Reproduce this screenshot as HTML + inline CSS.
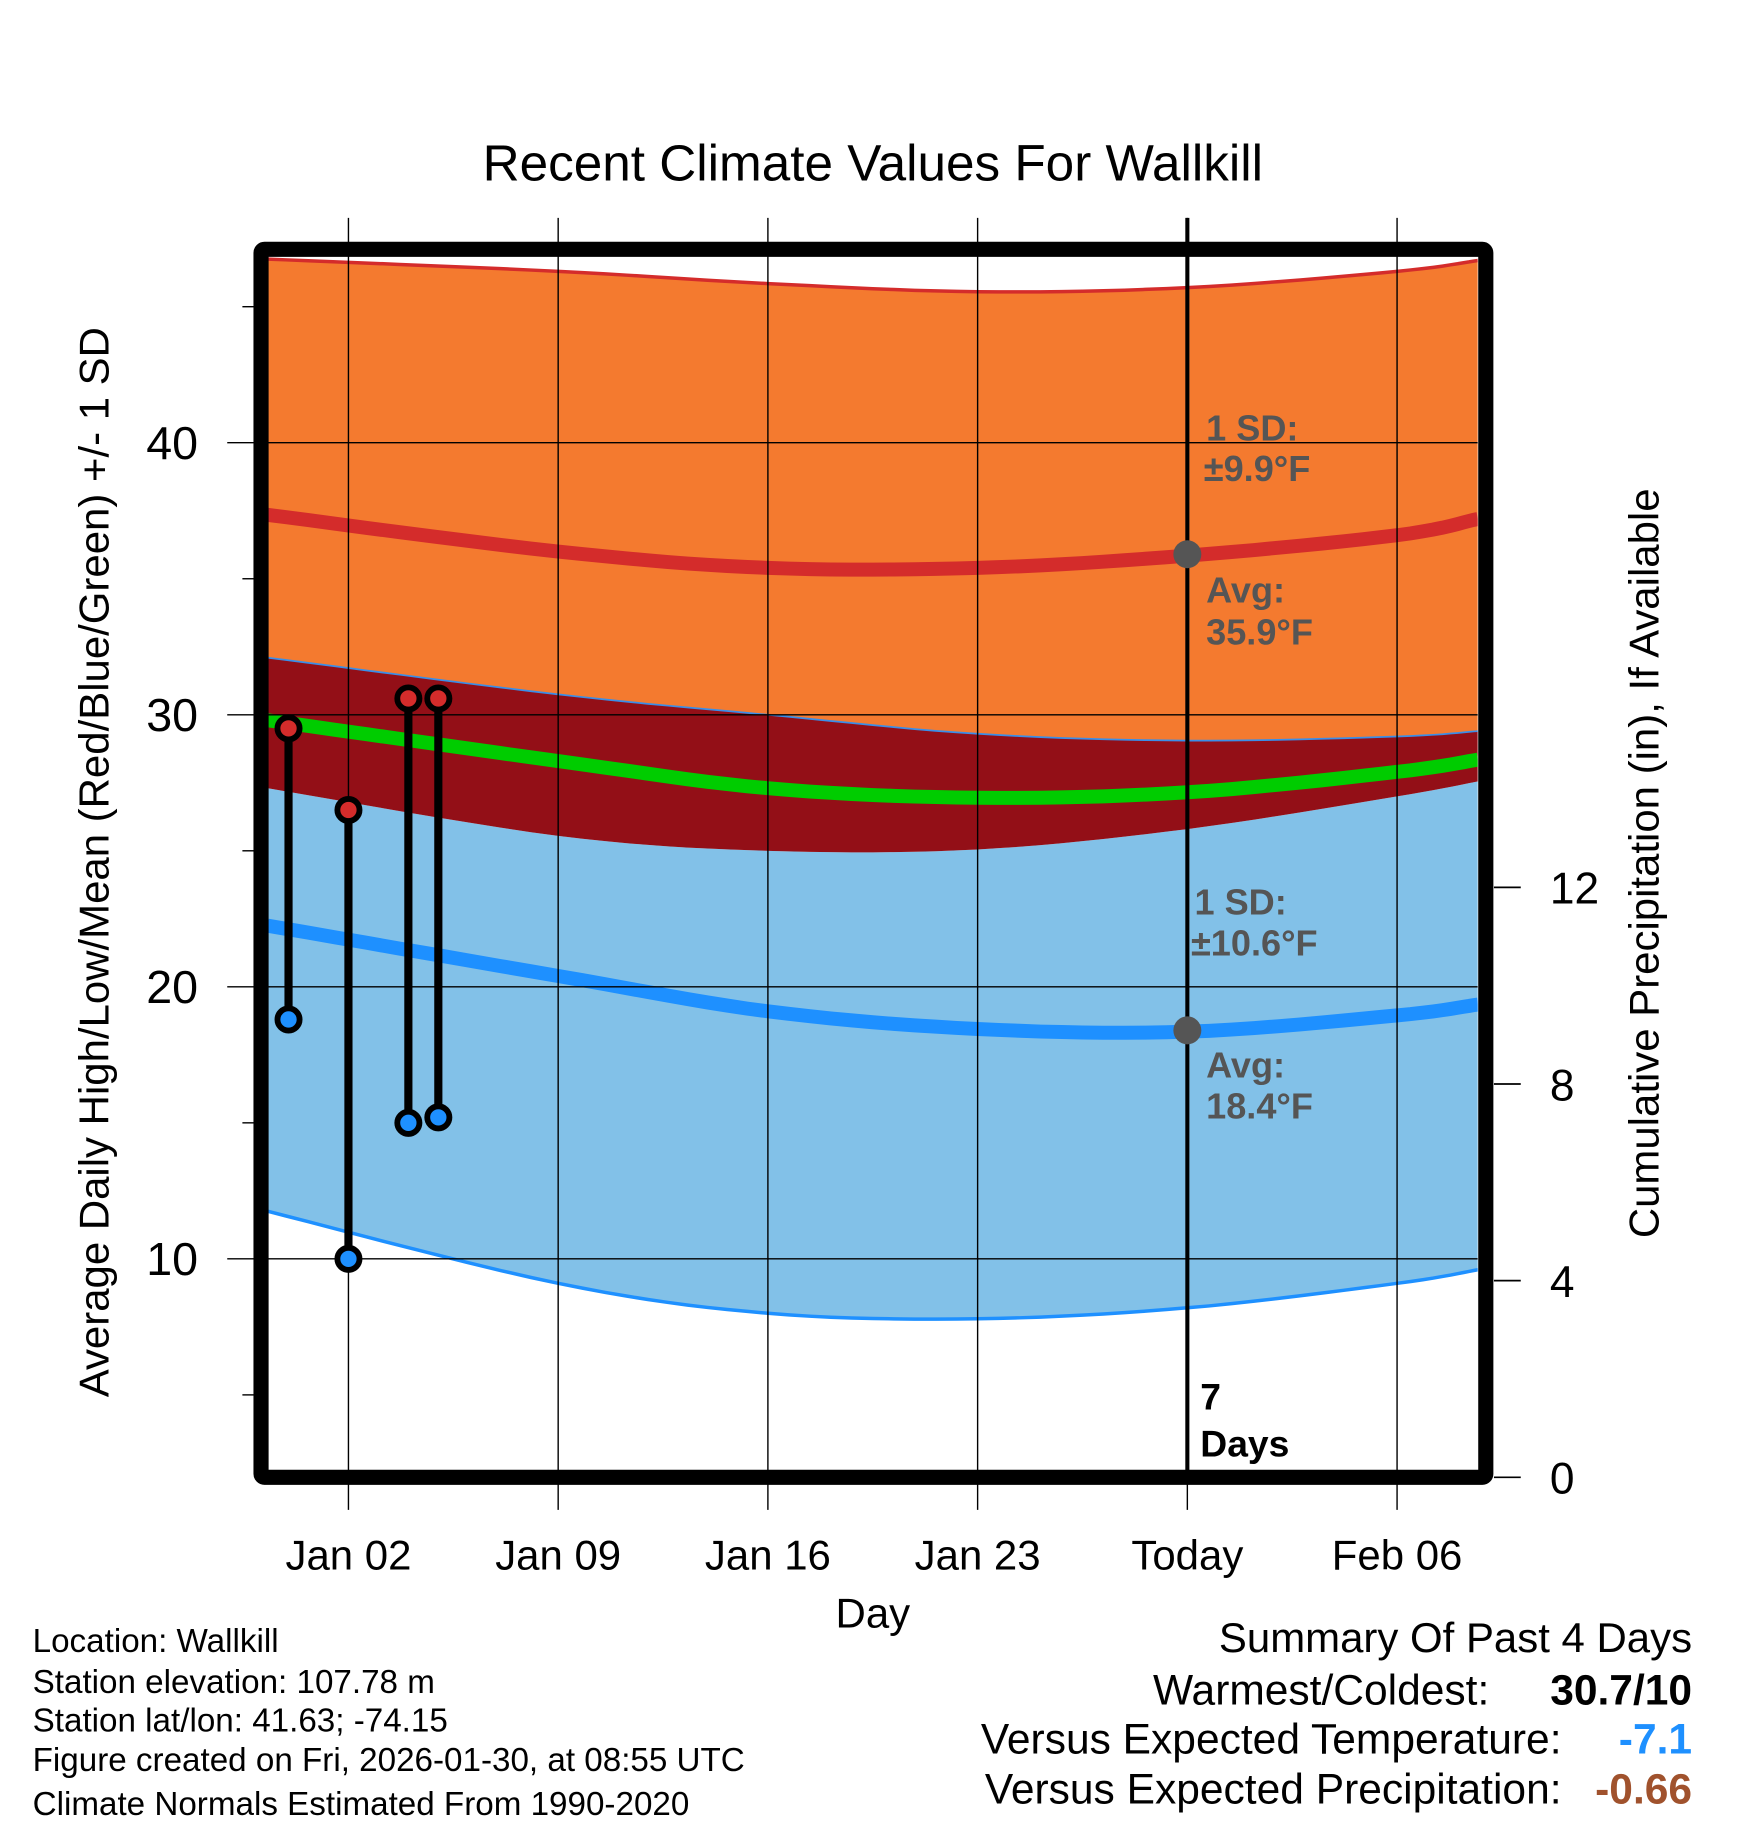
<!DOCTYPE html>
<html><head><meta charset="utf-8"><style>
html,body{margin:0;padding:0;background:#fff;}
svg{display:block;font-family:"Liberation Sans",sans-serif;}
</style></head><body>
<svg id="chart" width="1748" height="1828" viewBox="0 0 1500 1569" preserveAspectRatio="none" xmlns="http://www.w3.org/2000/svg">
<defs><clipPath id="plotclip"><rect x="230" y="220" width="1038" height="1042"/></clipPath></defs>
<rect width="1500" height="1569" fill="#fff"/>
<text x="749" y="155" font-size="44" text-anchor="middle">Recent Climate Values For Wallkill</text>
<g id="fills" clip-path="url(#plotclip)"></g>
<g id="grid"></g>
<g id="marks"></g>
<g id="frame"></g>
<g id="axes"></g>
<text transform="translate(93,740) rotate(-90)" font-size="36" text-anchor="middle">Average Daily High/Low/Mean (Red/Blue/Green) +/- 1 SD</text>
<text transform="translate(1423,741) rotate(-90)" font-size="36" text-anchor="middle">Cumulative Precipitation (in), If Available</text>
<text x="749" y="1397" font-size="36" text-anchor="middle">Day</text>
<g font-size="28.5">
<text x="28" y="1418">Location: Wallkill</text>
<text x="28" y="1453">Station elevation: 107.78 m</text>
<text x="28" y="1486">Station lat/lon: 41.63; -74.15</text>
<text x="28" y="1520">Figure created on Fri, 2026-01-30, at 08:55 UTC</text>
<text x="28" y="1558">Climate Normals Estimated From 1990-2020</text>
</g>
<g font-size="36.5">
<text x="1452" y="1418" text-anchor="end" font-size="36">Summary Of Past 4 Days</text>
<text x="1278" y="1463" text-anchor="end">Warmest/Coldest:</text>
<text x="1452" y="1463" text-anchor="end" font-weight="bold">30.7/10</text>
<text x="1340" y="1505" text-anchor="end">Versus Expected Temperature:</text>
<text x="1452" y="1505" text-anchor="end" font-weight="bold" fill="#1e90ff">-7.1</text>
<text x="1340" y="1548" text-anchor="end">Versus Expected Precipitation:</text>
<text x="1452" y="1548" text-anchor="end" font-weight="bold" fill="#a0522d">-0.66</text>
</g>
</svg>
<script>
const days=[-1.7,8,15,22,29,36,38.7];
const hiSdTop=[46.75,46.3,45.85,45.55,45.7,46.3,46.7];
const hiAvg=[37.35,36.0,35.4,35.4,35.85,36.6,37.2];
const hiSdBot=[32.1,30.75,30.0,29.3,29.05,29.2,29.4];
const meanT=[29.8,28.3,27.3,26.95,27.15,27.9,28.35];
const loSdTop=[27.3,25.55,25.0,25.05,25.8,27.0,27.55];
const loAvg=[22.25,20.4,19.1,18.45,18.35,18.95,19.35];
const loSdBot=[11.75,9.1,8.0,7.8,8.2,9.1,9.6];
const obsDays=[-1,1,3,4];
const obsHigh=[29.5,26.5,30.6,30.6];
const obsLow=[18.8,10,15.0,15.2];
const xTickDays=[1,8,15,22,29,36];
const xTickLabels=["Jan 02","Jan 09","Jan 16","Jan 23","Today","Feb 06"];
const yTicks=[10,20,30,40];
const yMinor=[5,15,25,35,45];
const y2Ticks=[0,4,8,12];
const todayDay=29;
const todayHi=35.9, todayLo=18.4;

const X=d=>273.3+d*25.71;
const Y=v=>1314-v*23.35;
const Y2=p=>1268-p*42.2;
const NS="http://www.w3.org/2000/svg";
let e;
function mk(tag,attrs,parent){const el=document.createElementNS(NS,tag);for(const k in attrs)el.setAttribute(k,attrs[k]);parent.appendChild(el);return el;}
function spline(vals){
  const pts=days.map((d,i)=>[X(d),Y(vals[i])]);const out=[];
  for(let i=0;i<pts.length-1;i++){const p0=pts[Math.max(i-1,0)],p1=pts[i],p2=pts[i+1],p3=pts[Math.min(i+2,pts.length-1)];
    for(let t=0;t<0.999;t+=0.1){const t2=t*t,t3=t2*t;
      const f=(a,b,c,d)=>0.5*((2*b)+(-a+c)*t+(2*a-5*b+4*c-d)*t2+(-a+3*b-3*c+d)*t3);
      out.push([f(p0[0],p1[0],p2[0],p3[0]),f(p0[1],p1[1],p2[1],p3[1])]);}}
  out.push(pts[pts.length-1]);return out;}
const ptsStr=a=>a.map(p=>p[0].toFixed(1)+","+p[1].toFixed(1)).join(" ");
function band(top,bot){return ptsStr(spline(top).concat(spline(bot).reverse()));}
const F=document.getElementById('fills');
e=mk('polygon',{points:band(hiSdTop,hiSdBot),fill:'#f47a2f'},F);


e=mk('polygon',{points:band(loSdTop,loSdBot),fill:'#82c1e8'},F);


e=mk('polygon',{points:band(hiSdBot,loSdTop),fill:'#930f17'},F);


e=mk('polyline',{points:ptsStr(spline(hiSdTop)),fill:'none',stroke:'#d42c2b','stroke-width':3},F);


e=mk('polyline',{points:ptsStr(spline(hiSdBot)),fill:'none',stroke:'#3a8ee8','stroke-width':1.5},F);


e=mk('polyline',{points:ptsStr(spline(loSdBot)),fill:'none',stroke:'#1e90ff','stroke-width':3},F);


e=mk('polyline',{points:ptsStr(spline(hiAvg)),fill:'none',stroke:'#d42c2b','stroke-width':12},F);


e=mk('polyline',{points:ptsStr(spline(loAvg)),fill:'none',stroke:'#1e90ff','stroke-width':12},F);


e=mk('polyline',{points:ptsStr(spline(meanT)),fill:'none',stroke:'#00cc00','stroke-width':12},F);



const G=document.getElementById('grid');
xTickDays.forEach(d=>{e=mk('line',{x1:X(d),x2:X(d),y1:187,y2:1296,stroke:'#000','stroke-width':1.2},G);

});
yTicks.forEach(v=>{e=mk('line',{x1:195,x2:1268,y1:Y(v),y2:Y(v),stroke:'#000','stroke-width':1.2},G);

});
yMinor.forEach(v=>{e=mk('line',{x1:208,x2:218,y1:Y(v),y2:Y(v),stroke:'#000','stroke-width':1.2},G);

});

const M=document.getElementById('marks');
e=mk('line',{x1:X(todayDay),x2:X(todayDay),y1:187,y2:1262,stroke:'#000','stroke-width':3.5},M);


obsDays.forEach((d,i)=>{
  e=mk('line',{x1:X(d),x2:X(d),y1:Y(obsHigh[i]),y2:Y(obsLow[i]),stroke:'#000','stroke-width':7},M);
  
  
  e=mk('circle',{cx:X(d),cy:Y(obsHigh[i]),r:9.5,fill:'#d42c2b',stroke:'#000','stroke-width':5},M);
  
  
  e=mk('circle',{cx:X(d),cy:Y(obsLow[i]),r:9.5,fill:'#1e90ff',stroke:'#000','stroke-width':5},M);
  
  
});
e=mk('circle',{cx:X(todayDay),cy:Y(todayHi),r:12,fill:'#555'},M);


e=mk('circle',{cx:X(todayDay),cy:Y(todayLo),r:12,fill:'#555'},M);


function txt(x,y,s,attrs,name,parent){e=mk('text',Object.assign({x:x,y:y},attrs),parent);e.textContent=s;

return e;}
const ann={'font-size':31,'font-weight':'bold',fill:'#555'};
txt(1035,378,'1 SD:',ann,'high-sd-label',M);
txt(1033,413,'±9.9°F',ann,'high-sd-value',M);
txt(1035,517,'Avg:',ann,'high-avg-label',M);
txt(1035,553,'35.9°F',ann,'high-avg-value',M);
txt(1025,785,'1 SD:',ann,'low-sd-label',M);
txt(1022,820,'±10.6°F',ann,'low-sd-value',M);
txt(1035,925,'Avg:',ann,'low-avg-label',M);
txt(1035,960,'18.4°F',ann,'low-avg-value',M);
txt(1030,1210,'7',{'font-size':32,'font-weight':'bold'},'days-count',M);
txt(1030,1250,'Days',{'font-size':32,'font-weight':'bold'},'days-label',M);

const FR=document.getElementById('frame');
e=mk('rect',{x:224,y:214,width:1051,height:1054,fill:'none',stroke:'#000','stroke-width':13,rx:3},FR);



const A=document.getElementById('axes');
yTicks.forEach(v=>txt(170,Y(v)+14,String(v),{'font-size':40,'text-anchor':'end'},'y-tick-label',A));
y2Ticks.forEach(p=>{e=mk('line',{x1:1282,x2:1305,y1:Y2(p),y2:Y2(p),stroke:'#000','stroke-width':1.5},A);


txt(1330,Y2(p)+14,String(p),{'font-size':38},'y2-tick-label',A);});
xTickDays.forEach((d,i)=>txt(X(d),1347,xTickLabels[i],{'font-size':36,'text-anchor':'middle'},'x-tick-label',A));
</script>
</body></html>
